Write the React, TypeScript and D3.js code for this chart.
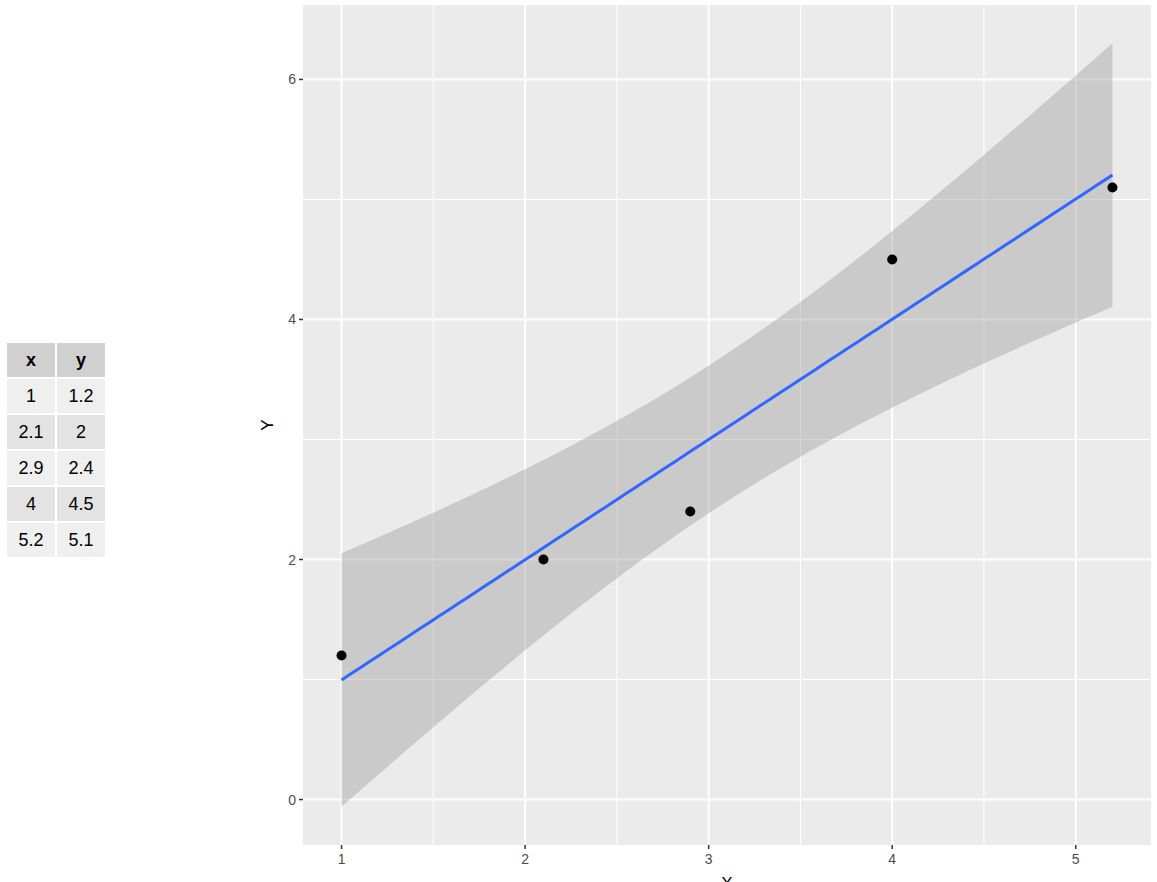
import React from "react";
import * as d3 from "d3";

const xs = [1, 2.1, 2.9, 4, 5.2];
const ys = [1.2, 2, 2.4, 4.5, 5.1];
const xTicks = [1, 2, 3, 4, 5];
const yTicks = [0, 2, 4, 6];
const xMinor = [1.5, 2.5, 3.5, 4.5];
const yMinor = [1, 3, 5];
const tableHeaders = ["x", "y"];

const W = 1157;
const H = 882;
const panel = { left: 303, right: 1151, top: 5, bottom: 845 };
const FONT = "'Liberation Sans', Arial, Helvetica, sans-serif";

function fitLm() {
  const n = xs.length;
  const mx = d3.mean(xs)!;
  const my = d3.mean(ys)!;
  const sxx = d3.sum(xs, (x) => (x - mx) ** 2);
  const sxy = d3.sum(xs.map((x, i) => (x - mx) * (ys[i] - my)));
  const b = sxy / sxx;
  const a = my - b * mx;
  const sse = d3.sum(xs.map((x, i) => (ys[i] - (a + b * x)) ** 2));
  const s = Math.sqrt(sse / (n - 2));
  const t = 3.182446; // t(0.975, df=3)
  const lo = d3.min(xs)!;
  const hi = d3.max(xs)!;
  const pts = d3.range(80).map((i) => {
    const x = lo + ((hi - lo) * i) / 79;
    const fit = a + b * x;
    const se = s * Math.sqrt(1 / n + (x - mx) ** 2 / sxx);
    return { x, fit, ymin: fit - t * se, ymax: fit + t * se };
  });
  return pts;
}

export default function App() {
  const fit = fitLm();
  const xr = [d3.min(xs)!, d3.max(xs)!];
  const yr = [
    Math.min(d3.min(ys)!, d3.min(fit, (d) => d.ymin)!),
    Math.max(d3.max(ys)!, d3.max(fit, (d) => d.ymax)!),
  ];
  const ex = (xr[1] - xr[0]) * 0.05;
  const ey = (yr[1] - yr[0]) * 0.05;
  const x = d3.scaleLinear().domain([xr[0] - ex, xr[1] + ex]).range([panel.left, panel.right]);
  const y = d3.scaleLinear().domain([yr[0] - ey, yr[1] + ey]).range([panel.bottom, panel.top]);

  const area = d3
    .area<any>()
    .x((d) => x(d.x))
    .y0((d) => y(d.ymin))
    .y1((d) => y(d.ymax));
  const line = d3
    .line<any>()
    .x((d) => x(d.x))
    .y((d) => y(d.fit));

  // table layout
  const tLeft = 7;
  const colW = 48;
  const colGap = 2;
  const tTop = 343;
  const rowH = 34;
  const rowGap = 2;
  const rows = xs.map((v, i) => [String(v), String(ys[i])]);

  return (
    <svg
      width={W}
      height={H}
      style={{ position: "absolute", left: 0, top: 0, display: "block" }}
      fontFamily={FONT}
    >
      <rect x={0} y={0} width={W} height={H} fill="#ffffff" />
      {/* table */}
      {tableHeaders.map((h, j) => (
        <g key={"h" + j}>
          <rect x={tLeft + j * (colW + colGap)} y={tTop} width={colW} height={rowH} fill="#d0d0d0" />
          <text
            x={tLeft + j * (colW + colGap) + colW / 2}
            y={tTop + rowH / 2 + 6}
            textAnchor="middle"
            fontSize={18}
            fontWeight="bold"
            fill="#000"
          >
            {h}
          </text>
        </g>
      ))}
      {rows.map((r, i) =>
        r.map((c, j) => {
          const ry = tTop + (i + 1) * (rowH + rowGap);
          return (
            <g key={i + "-" + j}>
              <rect
                x={tLeft + j * (colW + colGap)}
                y={ry}
                width={colW}
                height={rowH}
                fill={i % 2 === 0 ? "#efefef" : "#e3e3e3"}
              />
              <text
                x={tLeft + j * (colW + colGap) + colW / 2}
                y={ry + rowH / 2 + 6}
                textAnchor="middle"
                fontSize={18}
                fill="#000"
              >
                {c}
              </text>
            </g>
          );
        })
      )}

      {/* panel */}
      <rect
        x={panel.left}
        y={panel.top}
        width={panel.right - panel.left}
        height={panel.bottom - panel.top}
        fill="#EBEBEB"
      />
      {xMinor.map((v) => (
        <line key={"xm" + v} x1={x(v)} x2={x(v)} y1={panel.top} y2={panel.bottom} stroke="#fff" strokeWidth={1} />
      ))}
      {yMinor.map((v) => (
        <line key={"ym" + v} x1={panel.left} x2={panel.right} y1={y(v)} y2={y(v)} stroke="#fff" strokeWidth={1} />
      ))}
      {xTicks.map((v) => (
        <line key={"xg" + v} x1={x(v)} x2={x(v)} y1={panel.top} y2={panel.bottom} stroke="#fff" strokeWidth={2} />
      ))}
      {yTicks.map((v) => (
        <line key={"yg" + v} x1={panel.left} x2={panel.right} y1={y(v)} y2={y(v)} stroke="#fff" strokeWidth={2} />
      ))}

      <path d={area(fit) || ""} fill="#999999" fillOpacity={0.4} />
      <path d={line(fit) || ""} fill="none" stroke="#3366FF" strokeWidth={3} />
      {xs.map((v, i) => (
        <circle key={"p" + i} cx={x(v)} cy={y(ys[i])} r={5} fill="#000" />
      ))}

      {/* axes */}
      {xTicks.map((v) => (
        <g key={"xt" + v}>
          <line x1={x(v)} x2={x(v)} y1={panel.bottom} y2={panel.bottom + 4} stroke="#333" strokeWidth={1.5} />
          <text x={x(v)} y={panel.bottom + 19} textAnchor="middle" fontSize={14} fill="#4D4D4D">
            {v}
          </text>
        </g>
      ))}
      {yTicks.map((v) => (
        <g key={"yt" + v}>
          <line x1={panel.left - 4} x2={panel.left} y1={y(v)} y2={y(v)} stroke="#333" strokeWidth={1.5} />
          <text x={panel.left - 7} y={y(v) + 5} textAnchor="end" fontSize={14} fill="#4D4D4D">
            {v}
          </text>
        </g>
      ))}
      <text x={(panel.left + panel.right) / 2} y={889} textAnchor="middle" fontSize={17} fill="#000">
        X
      </text>
      <text
        transform={`translate(${273},${(panel.top + panel.bottom) / 2}) rotate(-90)`}
        textAnchor="middle"
        fontSize={17}
        fill="#000"
      >
        Y
      </text>
    </svg>
  );
}
